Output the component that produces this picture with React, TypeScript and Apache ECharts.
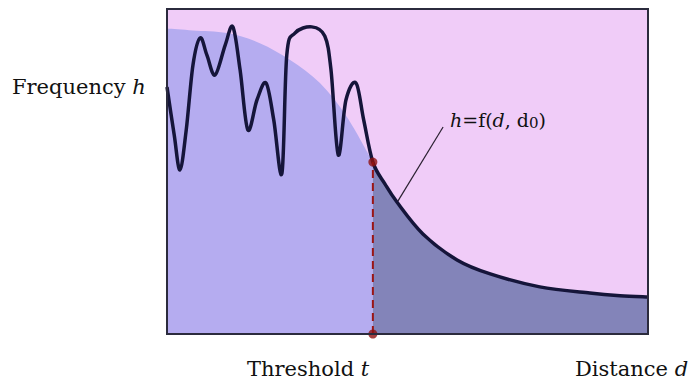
import React, { useEffect, useRef } from "react";
import * as echarts from "echarts";

// Black measured curve h (oscillating part, left of threshold)
const oscX = [0, 1.5, 2.7, 4.0, 5.4, 6.9, 8.3, 10.0, 12.1, 13.7, 15.2, 16.8, 18.7, 20.6, 22.2, 23.9, 24.9, 26.6, 30.1, 32.8, 34.1, 35.6, 37.2, 39.3, 40.9];
const oscY = [76.0, 61.2, 50.5, 62.8, 82.8, 91.1, 85.8, 79.7, 88.9, 94.5, 81.2, 62.8, 72.0, 77.2, 65.8, 49.5, 85.8, 92.6, 94.5, 91.7, 81.2, 55.1, 72.0, 77.2, 65.8];
// Model curve h = f(d, d0), from threshold to the right
const decayX = [42.8, 45.3, 47.8, 53.2, 60.3, 67.2, 77.5, 87.9, 94.2, 100];
const decayY = [52.9, 46.2, 40.6, 30.8, 22.8, 18.5, 14.5, 12.6, 11.8, 11.4];
// Smooth envelope (light area) left of threshold
const envX = [0, 5.4, 12.5, 19.3, 25.6, 31.8, 37.4, 42.8];
const envY = [94.0, 93.4, 92.6, 89.5, 84.3, 77.2, 66.8, 52.9];
// Threshold t
const thresholdX = 42.8;
const thresholdY = 52.9;
// Leader line for the formula label
const leaderX = [48.0, 57.4];
const leaderY = [40.9, 63.7];

const yLabel = "Frequency ";
const yLabelVar = "h";
const tLabel = "Threshold ";
const tLabelVar = "t";
const dLabel = "Distance ";
const dLabelVar = "d";

const zip = (xs: number[], ys: number[]) => xs.map((x, i) => [x, ys[i]]);

const FONT = '"DejaVu Serif", "Liberation Serif", serif';

// Catmull-Rom spline through pixel points -> SVG path data
function splinePath(p: number[][]): string {
  let d = `M${p[0][0]},${p[0][1]}`;
  for (let i = 0; i < p.length - 1; i++) {
    const p0 = p[i - 1] || p[i];
    const p1 = p[i];
    const p2 = p[i + 1];
    const p3 = p[i + 2] || p[i + 1];
    const c1x = p1[0] + (p2[0] - p0[0]) / 6;
    const c1y = p1[1] + (p2[1] - p0[1]) / 6;
    const c2x = p2[0] - (p3[0] - p1[0]) / 6;
    const c2y = p2[1] - (p3[1] - p1[1]) / 6;
    d += ` C${c1x},${c1y} ${c2x},${c2y} ${p2[0]},${p2[1]}`;
  }
  return d;
}

function curveSeries(data: number[][], style: any, filled: boolean, z: number) {
  return {
    type: "custom",
    data,
    z,
    encode: { x: 0, y: 1 },
    renderItem: (params: any, api: any) => {
      if (params.dataIndex !== 0) return null;
      const pts = data.map((v) => api.coord(v));
      let d = splinePath(pts);
      if (filled) {
        const base = api.coord([0, 0])[1];
        d += ` L${pts[pts.length - 1][0]},${base} L${pts[0][0]},${base} Z`;
      }
      return { type: "path", shape: { pathData: d }, style };
    },
  };
}

export default function App() {
  const ref = useRef<HTMLDivElement>(null);
  useEffect(() => {
    if (!ref.current) return;
    const chart = echarts.init(ref.current, null, { renderer: "svg" });
    const rich = {
      n: { fontFamily: FONT, fontSize: 21, fill: "#111" },
      i: { fontFamily: FONT, fontSize: 21, fontStyle: "italic", fill: "#111" },
    };
    const richF = {
      n: { fontFamily: FONT, fontSize: 19, fill: "#111" },
      i: { fontFamily: FONT, fontSize: 19, fontStyle: "italic", fill: "#111" },
      s: { fontFamily: FONT, fontSize: 15, fill: "#111", padding: [5, 0, 0, 0] },
    };
    const black = zip(oscX, oscY).concat(zip(decayX, decayY));
    chart.setOption({
      animation: false,
      grid: {
        left: 167,
        top: 9,
        width: 481,
        height: 325,
        show: true,
        backgroundColor: "#f0ccf8",
        borderWidth: 0,
      },
      xAxis: { type: "value", min: 0, max: 100, show: false },
      yAxis: { type: "value", min: 0, max: 100, show: false },
      series: [
        curveSeries(zip(envX, envY), { fill: "#b5acf0", stroke: "none" }, true, 1),
        curveSeries(zip(decayX, decayY), { fill: "#8384b9", stroke: "none" }, true, 1),
        curveSeries(
          black,
          { fill: "none", stroke: "#15153a", lineWidth: 3.5, lineJoin: "round", lineCap: "butt" },
          false,
          3
        ),
        {
          type: "line",
          data: [
            [thresholdX, 0],
            [thresholdX, thresholdY],
          ],
          showSymbol: false,
          lineStyle: { width: 2, color: "#9a1515", type: [8, 5] },
          z: 4,
        },
        {
          type: "scatter",
          data: [
            [thresholdX, 0],
            [thresholdX, thresholdY],
          ],
          symbolSize: 9,
          itemStyle: { color: "#8e1010" },
          z: 6,
        },
        {
          type: "line",
          data: zip(leaderX, leaderY),
          showSymbol: false,
          lineStyle: { width: 1.2, color: "#2a2030" },
          z: 4,
        },
      ],
      graphic: [
        {
          type: "rect",
          shape: { x: 167, y: 9, width: 481, height: 325 },
          style: { fill: "none", stroke: "#2b2b3d", lineWidth: 2 },
          z: 100,
        },
        {
          type: "text",
          x: 12,
          y: 87,
          style: { text: `{n|${yLabel}}{i|${yLabelVar}}`, rich, verticalAlign: "middle" },
        },
        {
          type: "text",
          x: 247,
          y: 369,
          style: { text: `{n|${tLabel}}{i|${tLabelVar}}`, rich, verticalAlign: "middle" },
        },
        {
          type: "text",
          x: 575,
          y: 369,
          style: { text: `{n|${dLabel}}{i|${dLabelVar}}`, rich, verticalAlign: "middle" },
        },
        {
          type: "text",
          x: 450,
          y: 120,
          style: {
            text: "{i|h}{n|=f(}{i|d}{n|, d}{s|0}{n|)}",
            rich: richF,
            verticalAlign: "middle",
          },
          z: 50,
        },
      ],
    });
    return () => chart.dispose();
  }, []);
  return (
    <div
      ref={ref}
      style={{ position: "fixed", left: 0, top: 0, width: 689, height: 382, background: "#fff" }}
    />
  );
}
